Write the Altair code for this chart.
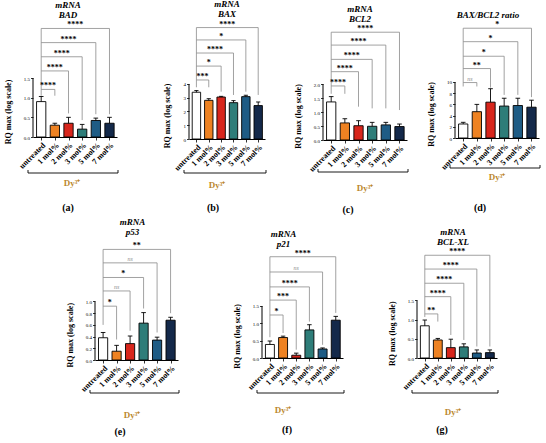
import altair as alt
import pandas as pd

SERIF = "Liberation Serif"
GRAY = "#8a8a8a"
DY_COLOR = "#bb872c"

GROUPS = ["untreated", "1 mol%", "2 mol%", "3 mol%", "5 mol%", "7 mol%"]
COLORS = ["#ffffff", "#ee8222", "#d8261c", "#2e7d79", "#1e5c85", "#14294a"]

# ---- data: bar means, upper end of error bars, significance brackets ----
bad_mean = [0.90, 0.30, 0.35, 0.20, 0.42, 0.35]
bad_top = [1.03, 0.35, 0.50, 0.32, 0.48, 0.50]
bad_sig = ["****", "****", "****", "****", "****"]
bad_level = [1.21, 1.68, 2.04, 2.40, 2.76]
bad_drop = [1.05, 0.60, 0.43, 0.58, 0.58]

bax_mean = [3.40, 2.81, 3.05, 2.64, 3.08, 2.43]
bax_top = [3.52, 2.93, 3.10, 2.79, 3.18, 2.69]
bax_sig = ["***", "*", "****", "*", "****"]
bax_level = [4.29, 5.30, 6.25, 7.20, 8.10]
bax_drop = [3.76, 3.44, 3.20, 3.44, 3.20]

bcl2_mean = [1.36, 0.61, 0.51, 0.49, 0.54, 0.48]
bcl2_top = [1.55, 0.76, 0.69, 0.63, 0.63, 0.57]
bcl2_sig = ["****", "****", "****", "****", "****"]
bcl2_level = [1.93, 2.44, 2.88, 3.39, 3.85]
bcl2_drop = [1.65, 1.19, 1.13, 1.13, 1.07]

ratio_mean = [2.5, 4.7, 6.4, 5.7, 5.8, 5.5]
ratio_top = [2.8, 6.0, 8.8, 7.1, 7.1, 6.75]
ratio_sig = ["ns", "**", "*", "*", "*"]
ratio_level = [9.9, 12.4, 14.6, 17.2, 19.6]
ratio_drop = [9.2, 9.0, 7.7, 7.7, 7.3]

p53_mean = [0.38, 0.15, 0.28, 0.63, 0.34, 0.68]
p53_top = [0.47, 0.25, 0.41, 0.81, 0.39, 0.73]
p53_sig = ["*", "ns", "*", "ns", "**"]
p53_level = [0.92, 1.18, 1.41, 1.66, 1.89]
p53_drop = [0.35, 0.50, 0.88, 0.47, 0.80]

p21_mean = [0.39, 0.59, 0.08, 0.81, 0.26, 1.09]
p21_top = [0.49, 0.63, 0.14, 0.96, 0.29, 1.20]
p21_sig = ["*", "***", "****", "ns", "****"]
p21_level = [1.24, 1.67, 2.05, 2.48, 2.92]
p21_drop = [0.72, 0.24, 1.05, 0.38, 1.30]

bclxl_mean = [0.84, 0.47, 0.27, 0.29, 0.13, 0.14]
bclxl_top = [0.99, 0.51, 0.49, 0.37, 0.21, 0.21]
bclxl_sig = ["**", "****", "****", "****", "****"]
bclxl_level = [1.15, 1.60, 1.95, 2.32, 2.68]
bclxl_drop = [0.95, 0.60, 0.47, 0.30, 0.30]

XMIN, XMAX = -0.6, 5.55
HALF = 0.34
LABEL_EXPR = "[" + ",".join("'" + g + "'" for g in GROUPS) + "][datum.value]"


def panel(title, mean, top, sig, level, drop, left_end, ticks, fmt, ymax,
          w, h, tag, lay):
    xs = alt.Scale(domain=[XMIN, XMAX], nice=False, zero=False)
    ys = alt.Scale(domain=[0, ymax], nice=False, zero=False)
    axis_px = h * ticks[-1] / ymax

    # one axis spec shared by every layer, so nothing conflicts when merged
    x_axis = alt.Axis(values=list(range(6)), labelExpr=LABEL_EXPR, labelAngle=-45,
                      labelOverlap=False, labelFlush=False, grid=False,
                      labelFont=SERIF, labelFontWeight="bold", labelFontSize=8,
                      labelColor="black", labelPadding=1, domainColor="black",
                      domainWidth=1, tickColor="black", tickSize=3, tickWidth=0.8,
                      title=None)
    y_axis = alt.Axis(values=ticks, format=fmt, labelOverlap=False, labelFlush=False,
                      grid=False, domain=False, labelFont=SERIF, labelFontSize=5,
                      labelColor="black", labelPadding=1, tickColor="black",
                      tickSize=2.5, tickWidth=0.8,
                      title="RQ max (log scale)", titleFont=SERIF,
                      titleFontWeight="bold", titleFontSize=8, titleColor="black",
                      titleY=h - axis_px / 2 + 4, titleX=lay["tx"])

    def X(f):
        return alt.X(f, scale=xs, axis=x_axis)

    def Y(f):
        return alt.Y(f, scale=ys, axis=y_axis)

    bars_df = pd.DataFrame({"group": GROUPS, "i": list(range(6)),
                            "mean": mean, "top": top})
    base = alt.Chart(bars_df).transform_calculate(
        x0=f"datum.i - {HALF}", x1=f"datum.i + {HALF}",
        c0="datum.i - 0.17", c1="datum.i + 0.17")

    bars = base.mark_bar(stroke="black", strokeWidth=0.9).encode(
        x=X("x0:Q"), x2="x1:Q", y=Y("mean:Q"), y2=alt.datum(0),
        color=alt.Color("group:N", scale=alt.Scale(domain=GROUPS, range=COLORS),
                        legend=None),
    )
    stem = base.mark_rule(color="black", strokeWidth=0.9).encode(
        x=X("i:Q"), y=Y("mean:Q"), y2="top:Q")
    cap = base.mark_rule(color="black", strokeWidth=0.9).encode(
        x=X("c0:Q"), x2="c1:Q", y=Y("top:Q"))

    # y axis line from 0 to the last tick
    yline = alt.Chart(pd.DataFrame({"x": [XMIN], "a": [0], "b": [ticks[-1]]})).mark_rule(
        color="black", strokeWidth=1).encode(x=X("x:Q"), y=Y("a:Q"), y2="b:Q")

    br = pd.DataFrame({"k": list(range(1, 6)), "start": [0] * 5, "level": level,
                       "drop": drop, "sig": sig})
    br["mid"] = br["k"] / 2
    hline = alt.Chart(br).mark_rule(color=GRAY, strokeWidth=0.8).encode(
        x=X("start:Q"), x2="k:Q", y=Y("level:Q"))
    rdrop = alt.Chart(br).mark_rule(color=GRAY, strokeWidth=0.8).encode(
        x=X("k:Q"), y=Y("level:Q"), y2="drop:Q")
    lline = alt.Chart(pd.DataFrame({"x": [0], "a": [max(level)], "b": [left_end]})).mark_rule(
        color=GRAY, strokeWidth=0.8).encode(x=X("x:Q"), y=Y("a:Q"), y2="b:Q")
    stars = alt.Chart(br).transform_filter("datum.sig != 'ns'").mark_text(
        font=SERIF, fontSize=8, fontWeight="bold", color="black",
        baseline="bottom", dy=1).encode(x=X("mid:Q"), y=Y("level:Q"), text="sig:N")
    ns = alt.Chart(br).transform_filter("datum.sig == 'ns'").mark_text(
        font=SERIF, fontSize=6, fontStyle="italic", color=GRAY,
        baseline="bottom", dy=-1).encode(x=X("mid:Q"), y=Y("level:Q"), text="sig:N")

    # panel heading, Dy3+ bracket beneath the category labels, panel tag
    lines = title if isinstance(title, list) else [title]
    n = len(lines)
    head = pd.DataFrame({"t": lines, "row": list(range(n))})
    heading = alt.Chart(head).transform_calculate(
        yy=f"{lay['ty']} - ({n - 1} - datum.row) * 10").mark_text(
        font=SERIF, fontSize=9, fontStyle="italic", fontWeight="bold",
        color="black", baseline="middle").encode(
        x=alt.value(w / 2 + lay["tdx"]), y=alt.Y("yy:Q", scale=None), text="t:N")

    one = pd.DataFrame({"t": ["Dy³⁺"], "tag": [tag]})
    ly = h + lay["line"]
    dy_line = alt.Chart(one).mark_rule(color="black", strokeWidth=0.9).encode(
        x=alt.value(-5), x2=alt.value(w + 1), y=alt.value(ly))
    dy_ends = alt.Chart(pd.DataFrame({"p": [-5, w + 1]})).mark_rule(
        color="black", strokeWidth=0.9).encode(
        x=alt.X("p:Q", scale=None), y=alt.value(ly - 3), y2=alt.value(ly))
    dy_text = alt.Chart(one).mark_text(font=SERIF, fontSize=9, fontWeight="bold",
                                       color=DY_COLOR).encode(
        x=alt.value(lay["dyx"]), y=alt.value(h + lay["dyy"]), text="t:N")
    tag_text = alt.Chart(one).mark_text(font=SERIF, fontSize=10, fontWeight="bold",
                                        color="black").encode(
        x=alt.value(lay["tagx"]), y=alt.value(h + lay["tagy"]), text="tag:N")

    return alt.layer(bars, stem, cap, yline, hline, rdrop, lline, stars, ns,
                     heading, dy_line, dy_ends, dy_text, tag_text).properties(
        width=w, height=h)


def spacer(w):
    return alt.Chart(pd.DataFrame({"v": [0]})).mark_text(text="").encode(
        x=alt.value(0)).properties(width=w, height=5)


pa = panel(["mRNA", "BAD"], bad_mean, bad_top, bad_sig, bad_level, bad_drop, 1.05,
           [0, 0.5, 1.0, 1.5], ".1f", 2.975, 84, 117, "(a)",
           dict(tx=-21, line=36, dyx=39, dyy=46, tagx=35, tagy=71, tdx=-7, ty=-5))
pb = panel(["mRNA", "BAX"], bax_mean, bax_top, bax_sig, bax_level, bax_drop, 3.76,
           [0, 1, 2, 3, 4], "d", 8.65, 76, 119, "(b)",
           dict(tx=-18, line=34, dyx=28, dyy=46, tagx=24, tagy=69, tdx=0, ty=-6))
pc = panel(["mRNA", "BCL2"], bcl2_mean, bcl2_top, bcl2_sig, bcl2_level, bcl2_drop, 1.65,
           [0, 0.5, 1.0, 1.5, 2.0], ".1f", 4.286, 84, 120, "(c)",
           dict(tx=-21, line=32, dyx=42, dyy=48, tagx=25, tagy=70, tdx=-5, ty=-1))
pd_ = panel("BAX/BCL2 ratio", ratio_mean, ratio_top, ratio_sig, ratio_level, ratio_drop, 9.2,
            [0, 2, 4, 6, 8, 10], "d", 21.07, 84, 118, "(d)",
            dict(tx=-20, line=30, dyx=42, dyy=39, tagx=25, tagy=70, tdx=-9, ty=-5))
pe = panel(["mRNA", "p53"], p53_mean, p53_top, p53_sig, p53_level, p53_drop, 0.6,
           [0, 0.2, 0.4, 0.6, 0.8, 1.0], ".1f", 2.085, 83, 122, "(e)",
           dict(tx=-21, line=33, dyx=37, dyy=55, tagx=25, tagy=72, tdx=-4, ty=-6))
pf = panel(["mRNA", "p21"], p21_mean, p21_top, p21_sig, p21_level, p21_drop, 0.6,
           [0, 0.5, 1.0, 1.5], ".1f", 3.46, 81, 120, "(f)",
           dict(tx=-21, line=35, dyx=21, dyy=52, tagx=25, tagy=72, tdx=-19, ty=6))
pg = panel(["mRNA", "BCL-XL"], bclxl_mean, bclxl_top, bclxl_sig, bclxl_level, bclxl_drop, 1.07,
           [0, 0.5, 1.0, 1.5], ".1f", 3.13, 80, 120, "(g)",
           dict(tx=-21, line=35, dyx=36, dyy=54, tagx=25, tagy=72, tdx=-4, ty=4))

top_row = alt.hconcat(pa, spacer(72), pb, spacer(58), pc, spacer(48), pd_,
                      spacing=0, bounds="flush")
bottom_row = alt.hconcat(spacer(62), pe, spacer(84), pf, spacer(74), pg,
                         spacing=0, bounds="flush")

# the nested rows report no height of their own under flush bounds,
# so the row spacing is the distance between the two rows' plot tops
chart = alt.vconcat(top_row, bottom_row, spacing=218, bounds="flush").properties(
    padding={"left": 4, "top": 0, "right": 0, "bottom": 0},
    background="white",
).configure_view(stroke=None)

chart.save("out.html", embed_options={"renderer": "svg", "actions": False})
